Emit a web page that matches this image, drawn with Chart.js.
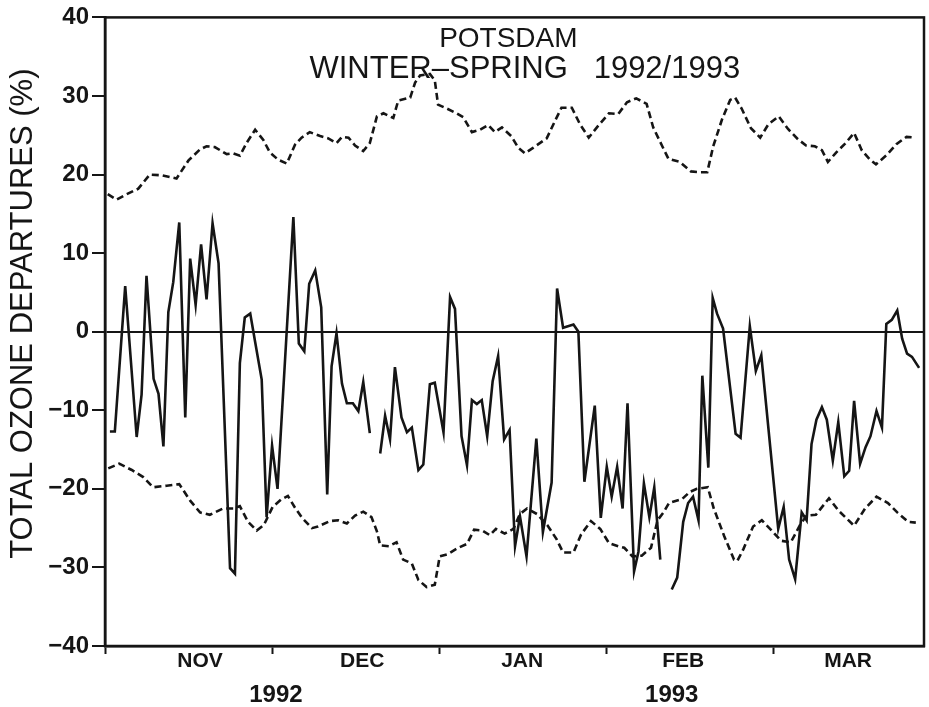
<!DOCTYPE html>
<html><head><meta charset="utf-8">
<script src="https://cdn.jsdelivr.net/npm/chart.js@4"></script>
<style>html,body{margin:0;padding:0;background:#fff}canvas{display:block}</style>
</head><body>
<canvas id="c" width="929" height="707"></canvas>
<script>
// ---- text ----
const titleLine1 = 'POTSDAM';
const titleLine2 = 'WINTER\u2013SPRING   1992/1993';
const yAxisTitle = 'TOTAL OZONE DEPARTURES (%)';
const monthLabels = ['NOV', 'DEC', 'JAN', 'FEB', 'MAR'];
const monthLabelDays = [17.4, 47.1, 76.4, 105.9, 136.1];
const monthBoundaryDays = [0, 30.7, 61.3, 91.9, 122.4];
const yearLabels = ['1992', '1993'];
const yearLabelDays = [31.3, 103.8];
const yTicks = [-40, -30, -20, -10, 0, 10, 20, 30, 40];

// ---- data (day of season, % departure) ----
const solidDays = [0.9,1.8,3.7,5.8,6.7,7.6,8.9,9.8,10.7,11.6,12.5,13.6,14.7,15.6,16.6,17.6,18.6,19.7,20.8,22.9,23.8,24.7,25.6,26.6,27.5,28.7,29.6,30.6,31.6,34.5,35.5,36.5,37.4,38.5,39.6,40.7,41.5,42.4,43.4,44.3,45.4,46.4,47.3,48.5,
  49.5,
  50.4,51.3,52.2,53.1,54.3,55.3,56.2,57.4,58.3,59.5,60.4,62.0,63.2,64.1,65.3,66.3,67.2,68.1,69.0,70.0,71.0,72.0,73.1,74.1,75.1,76.0,77.2,79.0,80.2,81.8,82.8,83.9,85.8,86.7,87.8,89.7,90.8,91.9,92.8,93.8,94.8,95.7,96.9,97.7,98.7,99.7,100.6,101.7,
  102.7,
  103.8,104.8,105.9,106.8,107.7,108.7,109.4,110.5,111.3,112.1,113.2,115.5,116.4,118.1,119.2,120.2,123.3,124.3,125.3,126.4,127.6,128.5,129.4,130.3,131.3,132.2,133.3,134.3,135.4,136.3,137.2,138.3,139.3,140.2,141.3,142.3,143.1,144.1,145.1,146.0,146.9,147.8,149.1];
const solidValues = [-12.7,-12.7,5.8,-13.4,-8.0,7.1,-6.0,-7.9,-14.6,2.5,6.3,13.9,-10.9,9.3,3.4,11.1,4.1,13.8,8.7,-30.1,-30.8,-4.0,1.8,2.3,-1.3,-6.1,-23.6,-14.5,-20.0,14.6,-1.5,-2.5,6.1,7.8,3.1,-20.7,-4.4,-0.2,-6.6,-9.1,-9.1,-10.1,-6.4,-12.9,
  null,
  -15.5,-10.7,-13.7,-4.5,-10.9,-12.8,-12.2,-17.6,-16.9,-6.7,-6.5,-12.8,4.4,2.9,-13.3,-17.0,-8.7,-9.2,-8.7,-13.3,-6.3,-3.1,-13.7,-12.5,-27.3,-23.5,-28.6,-13.6,-25.5,-19.2,5.5,0.5,0.9,0.0,-19.1,-9.4,-23.7,-17.2,-21.0,-17.2,-22.5,-9.1,-30.5,-28.0,-19.3,-23.6,-19.8,-29.0,
  null,
  -32.8,-31.3,-24.2,-21.8,-21.0,-24.0,-5.6,-17.3,4.3,2.3,0.4,-13.0,-13.5,0.7,-5.0,-3.0,-25.1,-22.3,-29.0,-31.5,-23.0,-24.0,-14.3,-11.2,-9.6,-11.2,-16.4,-11.5,-18.4,-17.7,-8.8,-16.8,-14.7,-13.3,-10.1,-12.2,1.0,1.5,2.7,-0.9,-2.8,-3.2,-4.6];

const upperDays = [0.5,2.1,4.0,6.1,8.2,10.4,13.1,15.3,17.4,18.6,20.1,22.3,23.5,24.7,26.0,27.5,29.0,30.2,31.7,33.3,34.8,36.0,37.5,39.4,40.9,42.4,43.4,44.6,45.8,47.3,48.5,49.8,51.0,52.8,53.7,55.9,56.8,57.7,59.5,60.4,61.0,62.6,64.4,65.6,67.2,68.7,70.2,71.4,72.7,74.4,75.7,76.9,78.4,80.9,82.4,83.6,85.5,87.0,88.6,90.2,92.3,94.0,95.6,97.3,99.2,100.4,102.0,103.2,105.3,107.3,109.0,110.3,111.4,113.0,114.5,115.4,116.6,118.3,120.0,121.5,123.4,125.1,126.9,128.4,130.0,131.3,132.4,133.9,135.5,137.2,138.6,140.1,141.2,143.2,145.0,146.8,148.4];
const upperValues = [17.5,16.8,17.5,18.2,20.0,19.9,19.5,21.8,23.2,23.6,23.5,22.6,22.7,22.4,24.1,25.7,24.4,22.8,21.9,21.4,23.8,24.7,25.4,24.9,24.6,24.0,24.8,24.7,23.7,23.0,24.0,27.4,27.8,27.2,29.4,29.8,31.7,32.6,32.8,32.0,28.9,28.4,27.8,27.3,25.4,25.7,26.3,25.4,26.0,24.9,23.4,22.7,23.4,24.6,26.8,28.5,28.5,26.4,24.7,26.1,27.8,27.7,29.2,29.7,29.0,26.0,23.7,22.0,21.6,20.4,20.3,20.3,23.6,27.0,29.5,29.8,28.4,25.9,24.7,26.4,27.4,25.8,24.5,23.7,23.6,23.1,21.6,22.8,23.9,25.3,23.1,21.9,21.3,22.5,23.9,24.8,24.7];

const lowerDays = [0.6,2.6,4.9,7.0,8.8,11.3,13.6,15.6,17.4,19.2,21.6,23.6,24.7,26.2,27.8,29.1,30.7,32.2,33.5,34.8,36.1,37.9,39.0,41.2,42.7,44.3,45.8,47.3,48.8,49.8,50.4,52.0,53.4,54.6,56.2,57.4,58.9,60.4,61.3,62.8,64.7,66.3,67.6,69.1,70.5,71.6,73.2,74.8,76.0,77.3,79.1,81.0,82.7,83.9,85.8,87.2,89.0,90.7,92.3,94.0,95.1,96.6,98.3,100.0,101.2,102.3,103.3,105.7,107.1,108.4,110.4,111.5,113.4,115.2,115.8,116.9,118.7,120.3,122.1,123.8,125.6,127.3,128.5,130.2,132.6,134.4,137.2,139.2,141.3,143.4,145.1,147.1,148.5];
const lowerValues = [-17.4,-16.8,-17.6,-18.5,-19.8,-19.6,-19.4,-21.5,-23.0,-23.3,-22.5,-22.5,-22.2,-24.2,-25.3,-24.6,-22.3,-21.4,-20.9,-22.4,-23.7,-25.0,-24.8,-24.1,-24.0,-24.4,-23.4,-22.9,-23.6,-25.4,-27.2,-27.3,-26.8,-29.0,-29.5,-31.6,-32.5,-32.2,-28.6,-28.3,-27.5,-27.0,-25.2,-25.3,-25.9,-25.1,-25.7,-25.1,-23.2,-22.5,-23.2,-24.6,-26.4,-28.1,-28.1,-25.8,-24.1,-25.1,-26.9,-27.3,-27.5,-28.6,-28.5,-27.5,-24.0,-23.0,-21.8,-21.3,-20.4,-20.0,-19.8,-22.5,-26.0,-29.0,-29.2,-27.7,-24.8,-24.0,-25.3,-26.6,-26.8,-24.6,-23.4,-23.3,-21.2,-22.8,-24.7,-22.5,-21.0,-21.8,-23.0,-24.2,-24.3];

// ---- chart ----
const INK = '#151515';
const FONT = '"Liberation Sans", Arial, Helvetica, sans-serif';
const pts = (ds, vs) => ds.map((d, i) => ({ x: d, y: vs[i] }));

const decor = {
  id: 'decor',
  afterDraw(chart) {
    const ctx = chart.ctx, a = chart.chartArea, xs = chart.scales.x;
    ctx.save();
    ctx.strokeStyle = INK;
    ctx.lineWidth = 2.5;
    ctx.strokeRect(a.left, a.top, a.right - a.left, a.bottom - a.top);
    ctx.fillStyle = INK;
    ctx.textAlign = 'center';
    ctx.textBaseline = 'alphabetic';
    const w = a.right - a.left;
    ctx.font = '28px ' + FONT;
    ctx.fillText(titleLine1, a.left + w * 0.4925, a.top + 30);
    ctx.font = '31px ' + FONT;
    ctx.fillText(titleLine2, a.left + w * 0.5126, a.top + 61);
    ctx.font = 'bold 24px ' + FONT;
    yearLabels.forEach((t, i) => ctx.fillText(t, xs.getPixelForValue(yearLabelDays[i]), a.bottom + 56));
    ctx.translate(23, (a.top + a.bottom) / 2 - 18);
    ctx.rotate(-Math.PI / 2);
    ctx.textBaseline = 'middle';
    ctx.font = '31px ' + FONT;
    ctx.fillText(yAxisTitle, 0, 0);
    ctx.restore();
  }
};

new Chart(document.getElementById('c'), {
  type: 'line',
  data: {
    datasets: [
      { data: pts(solidDays, solidValues), borderColor: INK, borderWidth: 2.6, pointRadius: 0, spanGaps: false, tension: 0 },
      { data: pts(upperDays, upperValues), borderColor: INK, borderWidth: 2.6, borderDash: [7, 4], pointRadius: 0, spanGaps: true, tension: 0 },
      { data: pts(lowerDays, lowerValues), borderColor: INK, borderWidth: 2.6, borderDash: [7, 4], pointRadius: 0, spanGaps: true, tension: 0 }
    ]
  },
  options: {
    responsive: false,
    animation: false,
    devicePixelRatio: 1,
    layout: { padding: { top: 17, right: 5, left: 0, bottom: 0 } },
    plugins: { legend: { display: false }, tooltip: { enabled: false } },
    scales: {
      x: {
        type: 'linear', min: 0, max: 150,
        afterBuildTicks: s => {
          s.ticks = monthBoundaryDays.concat(monthLabelDays).sort((p, q) => p - q).map(v => ({ value: v }));
        },
        afterFit: s => { s.height = 61; },
        ticks: {
          autoSkip: false, maxRotation: 0, padding: -5,
          font: { family: FONT, size: 21, weight: 'bold' }, color: INK,
          callback: v => { const i = monthLabelDays.indexOf(v); return i >= 0 ? monthLabels[i] : ''; }
        },
        grid: {
          drawOnChartArea: false, tickLength: 8, tickWidth: 2,
          tickColor: c => (c.tick && monthBoundaryDays.includes(c.tick.value)) ? INK : 'rgba(0,0,0,0)'
        },
        border: { display: true, color: INK, width: 2.5 }
      },
      y: {
        min: -40, max: 40,
        afterBuildTicks: s => { s.ticks = yTicks.map(v => ({ value: v })); },
        afterFit: s => { s.width = 105; },
        ticks: {
          padding: 3, font: { family: FONT, size: 24, weight: 'bold' }, color: INK,
          callback: v => v < 0 ? '\u2212' + Math.abs(v) : String(v)
        },
        grid: {
          drawOnChartArea: true, tickLength: 13, tickWidth: 2, tickColor: INK,
          lineWidth: 2,
          color: c => (c.tick && c.tick.value === 0) ? INK : 'rgba(0,0,0,0)'
        },
        border: { display: true, color: INK, width: 2.5 }
      }
    }
  },
  plugins: [decor]
});
</script>
</body></html>
